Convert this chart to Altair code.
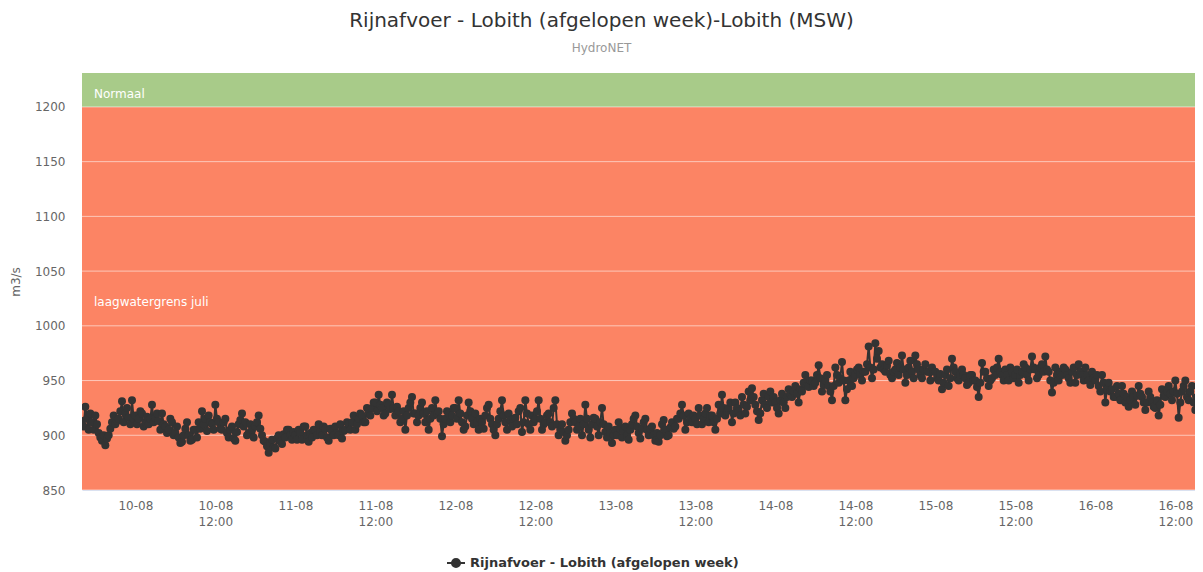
import altair as alt
import pandas as pd

TITLE = "Rijnafvoer - Lobith (afgelopen week)-Lobith (MSW)"
SUBTITLE = "HydroNET"
SERIES = "Rijnafvoer - Lobith (afgelopen week)"
Y_TITLE = "m3/s"
FONT = "DejaVu Sans"

START = "2022-08-09T16:00:00Z"
X_END = "2022-08-16T14:57:00Z"
STEP_MIN = 15

# discharge (m3/s), quarter-hourly
q_09_pm = [913, 908, 926, 915, 905, 920, 912, 905, 918, 910, 902, 898, 895, 900, 891, 897,
           900, 906, 912, 918, 910, 913, 915, 922, 931, 912, 920, 925, 916, 910, 932, 915]
q_10_am = [918, 910, 915, 922, 920, 908, 912, 917, 910, 915, 928, 912, 916, 920, 913, 905,
           920, 910, 908, 902, 905, 915, 912, 900, 902, 908, 898, 893, 894, 900, 906, 912,
           900, 895, 896, 905, 905, 898, 912, 906, 922, 910, 915, 904, 918, 912, 910, 905]
q_10_pm = [928, 915, 912, 906, 905, 912, 915, 902, 898, 905, 908, 897, 895, 903, 910, 914,
           920, 908, 912, 900, 902, 910, 905, 898, 908, 912, 918, 906, 900, 895, 894, 890,
           884, 893, 896, 889, 888, 897, 900, 894, 892, 901, 898, 905, 905, 900, 896, 903]
q_11_am = [900, 896, 905, 902, 896, 908, 908, 900, 894, 902, 898, 905, 905, 900, 910, 903,
           900, 908, 906, 898, 895, 906, 904, 900, 908, 902, 900, 910, 897, 904, 905, 912,
           910, 905, 912, 918, 905, 910, 915, 920, 918, 912, 912, 925, 922, 918, 925, 930]
q_11_pm = [930, 922, 937, 928, 925, 918, 920, 930, 928, 924, 937, 925, 918, 926, 922, 912,
           915, 922, 905, 918, 925, 930, 935, 920, 920, 912, 918, 925, 930, 920, 912, 922,
           905, 915, 925, 918, 932, 920, 922, 915, 899, 910, 915, 922, 920, 912, 918, 925]
q_12_am = [925, 915, 932, 920, 912, 905, 908, 918, 930, 922, 915, 910, 920, 912, 905, 915,
           912, 906, 918, 925, 928, 915, 910, 905, 900, 910, 915, 922, 932, 918, 912, 905,
           920, 914, 908, 915, 916, 910, 922, 925, 903, 912, 932, 920, 910, 905, 918, 912]
q_12_pm = [915, 922, 932, 915, 905, 910, 912, 918, 920, 912, 908, 925, 932, 910, 900, 905,
           910, 903, 895, 900, 905, 912, 920, 915, 912, 905, 908, 915, 900, 910, 928, 915,
           905, 898, 910, 916, 915, 908, 900, 912, 925, 910, 903, 898, 908, 902, 893, 900]
q_13_am = [905, 900, 912, 906, 898, 904, 908, 900, 896, 905, 910, 915, 918, 908, 902, 897,
           906, 912, 915, 905, 900, 906, 908, 900, 895, 902, 894, 900, 910, 914, 905, 899,
           900, 907, 912, 906, 908, 915, 915, 920, 928, 918, 905, 912, 920, 915, 912, 918]
q_13_pm = [915, 910, 925, 918, 910, 915, 920, 925, 912, 918, 918, 912, 905, 915, 928, 920,
           937, 925, 918, 922, 925, 930, 912, 920, 930, 925, 922, 918, 935, 928, 920, 926,
           940, 932, 943, 935, 928, 922, 914, 920, 932, 938, 928, 925, 935, 940, 930, 935]
q_14_am = [930, 925, 920, 932, 938, 930, 925, 935, 942, 938, 935, 940, 945, 938, 930, 942,
           940, 948, 955, 945, 944, 950, 950, 945, 948, 955, 964, 952, 940, 946, 950, 955,
           945, 940, 932, 945, 962, 955, 948, 952, 967, 950, 932, 942, 950, 958, 945, 952]
q_14_pm = [955, 960, 962, 955, 950, 958, 958, 965, 981, 962, 952, 960, 984, 970, 977, 962,
           965, 960, 958, 964, 968, 955, 952, 958, 960, 966, 955, 962, 973, 960, 948, 955,
           962, 968, 958, 952, 973, 965, 960, 955, 952, 960, 965, 958, 958, 950, 962, 958]
q_15_am = [958, 952, 950, 956, 942, 948, 955, 960, 945, 952, 970, 962, 958, 952, 950, 955,
           960, 955, 952, 946, 948, 955, 955, 950, 950, 944, 935, 948, 966, 958, 958, 952,
           945, 950, 952, 960, 955, 962, 970, 958, 955, 950, 960, 955, 950, 962, 958, 952]
q_15_pm = [955, 960, 948, 955, 958, 965, 962, 955, 950, 960, 972, 962, 960, 952, 955, 962,
           965, 958, 972, 960, 958, 950, 939, 948, 962, 955, 950, 958, 955, 962, 960, 955,
           952, 948, 958, 962, 948, 955, 965, 958, 955, 950, 962, 955, 950, 946, 958, 952]
q_16_am = [950, 955, 945, 940, 955, 948, 930, 942, 948, 940, 942, 935, 935, 945, 938, 932,
           945, 938, 930, 935, 926, 932, 940, 935, 928, 936, 945, 938, 935, 930, 923, 930,
           940, 935, 930, 926, 925, 932, 918, 928, 942, 936, 935, 940, 945, 938, 932, 940]
q_16_pm = [950, 938, 916, 930, 940, 945, 950, 935, 932, 940, 945, 930, 923, 935]

# plot bands
band_from = [850, 1200]
band_to = [1200, 1231]
band_colors = ["#FC8464", "#A8CB89"]
band_labels = ["laagwatergrens juli", "Normaal"]
band_label_y = [1022, 1212]

y_ticks = [850, 900, 950, 1000, 1050, 1100, 1150, 1200]
Y_DOMAIN = [850, 1231]

values = (q_09_pm + q_10_am + q_10_pm + q_11_am + q_11_pm + q_12_am + q_12_pm
          + q_13_am + q_13_pm + q_14_am + q_14_pm + q_15_am + q_15_pm + q_16_am + q_16_pm)


def ms(ts):
    return int(ts.value // 10**6)


t0 = pd.Timestamp(START)
times = [ms(t0 + pd.Timedelta(minutes=STEP_MIN * i)) for i in range(len(values))]
df = pd.DataFrame({"t": times, "q": values, "series": SERIES})

tick_start = pd.Timestamp("2022-08-10T00:00:00Z")
x_ticks = [ms(tick_start + pd.Timedelta(hours=12 * i)) for i in range(14)]
x_domain = [ms(t0), ms(pd.Timestamp(X_END))]

bands = pd.DataFrame({"lo": band_from, "hi": band_to, "c": band_colors,
                      "label": band_labels, "ly": band_label_y})
grid = pd.DataFrame({"v": y_ticks})

W, H = 1113, 417

yscale = alt.Scale(domain=Y_DOMAIN, nice=False, zero=False)
yaxis = alt.Axis(values=y_ticks, format="d", title=Y_TITLE, grid=False, domain=False, ticks=False,
                 labelPadding=17, labelColor="#666666", labelFontSize=12, labelFont=FONT,
                 titleColor="#666666", titleFontSize=12, titleFontWeight="normal",
                 titleFont=FONT, titlePadding=12)

band_layer = alt.Chart(bands).mark_rect().encode(
    x=alt.value(0), x2=alt.value("width"),
    y=alt.Y("lo:Q", scale=yscale, axis=yaxis), y2="hi:Q",
    color=alt.Color("c:N", scale=None),
)

grid_layer = alt.Chart(grid).mark_rule(color="#ffffff", opacity=0.55, strokeWidth=1).encode(
    x=alt.value(0), x2=alt.value("width"),
    y=alt.Y("v:Q", scale=yscale, axis=yaxis),
)

label_layer = alt.Chart(bands).mark_text(
    align="left", baseline="middle", color="#ffffff", fontSize=12, font=FONT
).encode(
    x=alt.value(12),
    y=alt.Y("ly:Q", scale=yscale, axis=yaxis),
    text="label:N",
)

xaxis = alt.Axis(values=x_ticks, title=None, grid=False, ticks=False,
                 domainColor="#ccd6eb", labelColor="#666666", labelFontSize=12,
                 labelFont=FONT, labelPadding=10, labelLineHeight=16,
                 labelExpr="utchours(datum.value) == 0 ? utcFormat(datum.value, '%d-%m') : "
                           "[utcFormat(datum.value, '%d-%m'), utcFormat(datum.value, '%H:%M')]")

legend_symbol = ("M-1,0L1,0M-0.45,0A0.45,0.45,0,1,1,0.45,0A0.45,0.45,0,1,1,-0.45,0Z")

line_layer = alt.Chart(df).mark_line(
    strokeWidth=2, clip=True,
    point=alt.OverlayMarkDef(filled=True, size=64, clip=True),
).encode(
    x=alt.X("t:T", scale=alt.Scale(type="utc", domain=x_domain), axis=xaxis),
    y=alt.Y("q:Q", scale=yscale, axis=yaxis),
    color=alt.Color("series:N", scale=alt.Scale(range=["#333333"]),
                    legend=alt.Legend(title=None, orient="none", legendX=364, legendY=480,
                                      symbolType=legend_symbol, symbolSize=324,
                                      symbolFillColor="#333333", symbolStrokeColor="#333333",
                                      symbolStrokeWidth=2, labelLimit=0,
                                      labelFont=FONT, labelFontSize=13, labelFontWeight="bold",
                                      labelColor="#333333")),
)

chart = alt.layer(band_layer, grid_layer, label_layer, line_layer).properties(
    width=W, height=H,
    autosize=alt.AutoSizeParams(type="none"),
    padding={"left": 74, "top": 65, "right": 0, "bottom": 83},
    title=alt.TitleParams(text=TITLE, subtitle=SUBTITLE, anchor="middle", dx=-37,
                          font=FONT, fontSize=20, fontWeight="normal", color="#333333",
                          subtitleFont=FONT, subtitleFontSize=12, subtitleColor="#999999",
                          subtitlePadding=12, offset=19),
).configure_view(stroke=None)

chart.save("out.html", embed_options={"renderer": "svg", "actions": False})
